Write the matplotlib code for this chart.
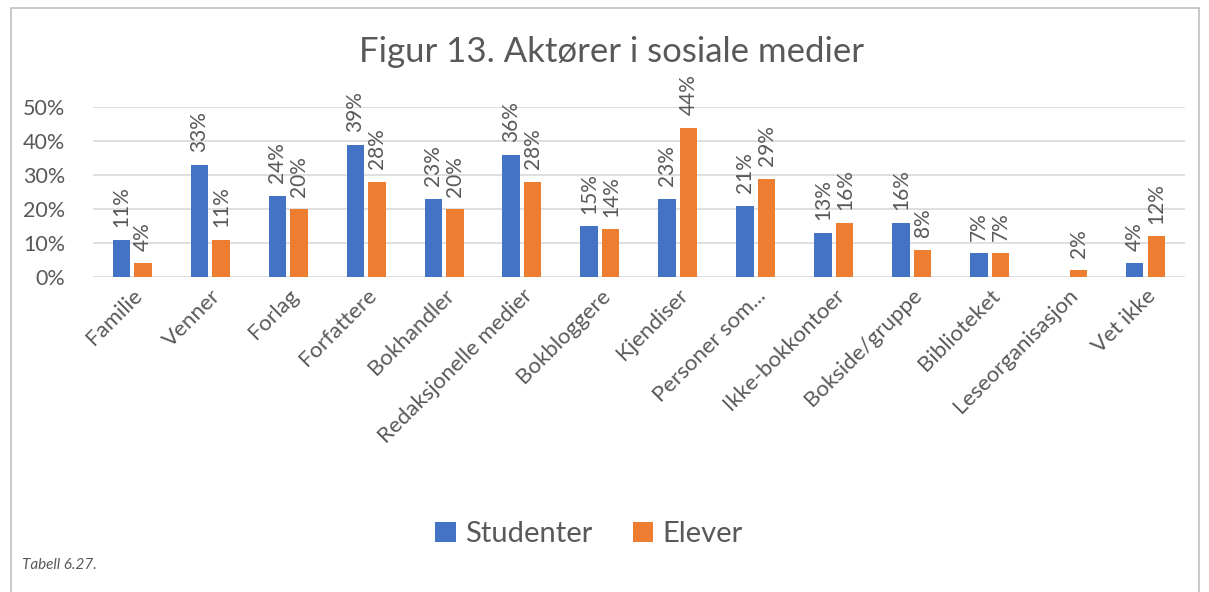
import numpy as np
import matplotlib.pyplot as plt
from matplotlib.patches import Rectangle

categories = ["Familie", "Venner", "Forlag", "Forfattere", "Bokhandler",
              "Redaksjonelle medier", "Bokbloggere", "Kjendiser", "Personer som...",
              "Ikke-bokkontoer", "Bokside/gruppe", "Biblioteket",
              "Leseorganisasjon", "Vet ikke"]
studenter = [11, 33, 24, 39, 23, 36, 15, 23, 21, 13, 16, 7, 0, 4]
elever = [4, 11, 20, 28, 20, 28, 14, 44, 29, 16, 8, 7, 2, 12]

BLUE = "#4472C4"
ORANGE = "#ED7D31"
GRAY = "#595959"

plt.rcParams['font.family'] = ['Lato', 'DejaVu Sans']

fig = plt.figure(figsize=(12.09, 5.92), dpi=100)
ax = fig.add_axes([0.077, 0.532, 0.903, 0.287])

x = np.arange(len(categories))
w = 0.22
b1 = ax.bar(x - 0.14, studenter, w, color=BLUE, label="Studenter", zorder=3)
b2 = ax.bar(x + 0.14, elever, w, color=ORANGE, label="Elever", zorder=3)

for bars, vals in ((b1, studenter), (b2, elever)):
    for rect, v in zip(bars, vals):
        if v == 0:
            continue
        ax.annotate(f"{v}%", (rect.get_x() + rect.get_width() / 2, v),
                    xytext=(0, 9), textcoords="offset points",
                    rotation=90, ha="center", va="bottom",
                    fontsize=15, color=GRAY)

ax.set_xlim(-0.5, len(categories) - 0.5)
ax.set_ylim(0, 50)
ax.set_yticks(range(0, 51, 10))
ax.set_yticklabels([f"{t}%" for t in range(0, 51, 10)], fontsize=15.5, color=GRAY)
ax.set_xticks(x)
ax.set_xticklabels(categories, rotation=45, ha="right", rotation_mode="anchor",
                   fontsize=16, color=GRAY)
ax.tick_params(length=0)
ax.tick_params(axis="y", pad=20)
ax.tick_params(axis="x", pad=6)
ax.grid(axis="y", color="#D9D9D9", linewidth=1.2, zorder=0)
for s in ax.spines.values():
    s.set_visible(False)

fig.text(0.506, 0.912, "Figur 13. Aktører i sosiale medier", ha="center", va="center",
         fontsize=25, color=GRAY)
fig.legend(loc="center", bbox_to_anchor=(0.487, 0.098), ncol=2, frameon=False,
           fontsize=21, handlelength=0.7, handleheight=0.7, handletextpad=0.3,
           columnspacing=1.4, labelcolor=GRAY)
fig.text(0.018, 0.045, "Tabell 6.27.", fontsize=11, style="italic", color=GRAY,
         va="center")

fig.patches.append(Rectangle((0.009, -0.05), 0.983, 1.036, transform=fig.transFigure,
                             fill=False, edgecolor="#BFBFBF", linewidth=1.2))

fig.savefig("out.png", dpi=100)
